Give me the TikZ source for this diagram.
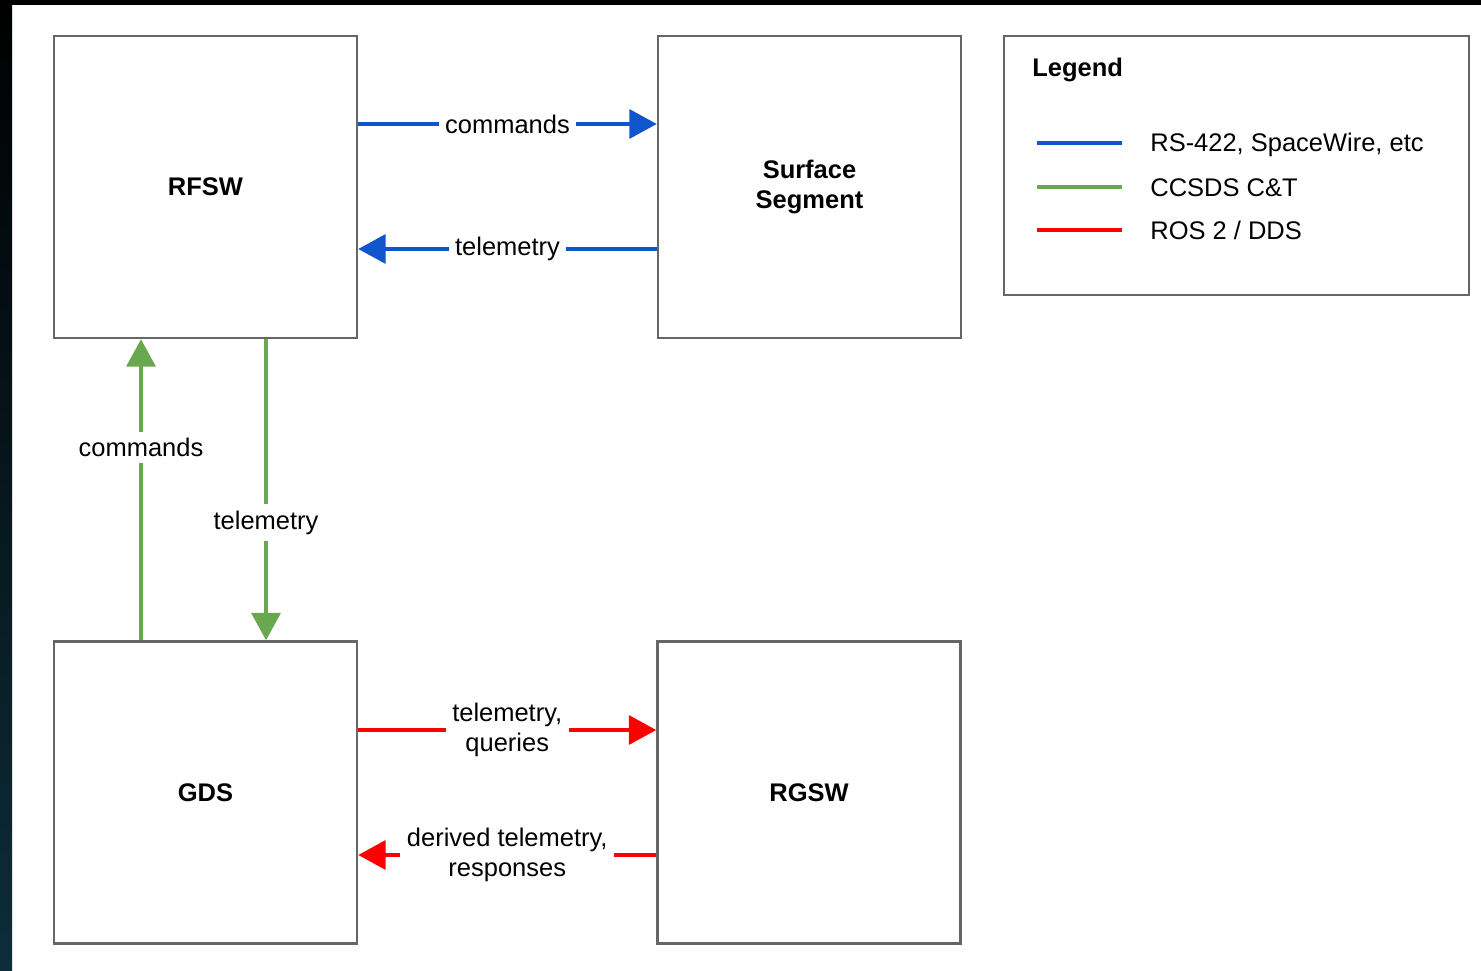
\documentclass[tikz,border=0pt]{standalone}
\usepackage{fontspec}
\setmainfont{Liberation Sans}
\usepackage{xcolor}
\usetikzlibrary{arrows.meta, calc, positioning}

\definecolor{linkblue}{HTML}{1155CC}
\definecolor{linkgreen}{HTML}{6AA84F}
\definecolor{linkred}{HTML}{FF0000}
\definecolor{boxgray}{HTML}{666666}
\definecolor{edgeteal}{RGB}{13,45,58}

\begin{document}
\begin{tikzpicture}[
    block/.style={draw=boxgray, line width=1.4pt, fill=white, minimum width=6.06cm, minimum height=6.04cm, align=center, font=\bfseries},
    legendbox/.style={draw=boxgray, line width=1.4pt, fill=white, minimum width=9.3cm, minimum height=5.18cm},
    link/.style={line width=2.1pt, -{Triangle[length=0.55cm, width=0.58cm]}},
    plain/.style={line width=2.1pt},
    tag/.style={fill=white, inner sep=0.13cm, align=center},
    entry/.style={anchor=west, inner sep=0pt}
]
\fontsize{14.5}{17.5}\selectfont

% Canvas and dark frame of the screenshot
\useasboundingbox (0,0) rectangle (29.62,19.4);
\fill[white] (0,0) rectangle (29.62,19.4);
\fill[black] (0,19.3) rectangle (29.62,19.4);
\shade[top color=black, bottom color=edgeteal] (0,0) rectangle (0.24,19.4);

% Blocks
\node[block] (rfsw)    at (4.11,15.66)  {RFSW};
\node[block] (surface) at (16.19,15.66) {Surface\\Segment};
\node[block] (gds)     at (4.11,3.55)   {GDS};
\node[block] (rgsw)    at (16.18,3.55)  {RGSW};

% Legend
\node[legendbox] (legend) at (24.73,16.09) {};
\node[entry, font=\bfseries] (legend_title) at (20.64,18.0) {Legend};
\coordinate (blue_a)  at (20.74,16.54);
\coordinate (blue_b)  at (22.44,16.54);
\coordinate (green_a) at (20.74,15.66);
\coordinate (green_b) at (22.44,15.66);
\coordinate (red_a)   at (20.74,14.80);
\coordinate (red_b)   at (22.44,14.80);
\draw[plain, linkblue]  (blue_a) -- (blue_b);
\draw[plain, linkgreen] (green_a) -- (green_b);
\draw[plain, linkred]   (red_a) -- (red_b);
\node[entry] (blue_txt)  at (23.0,16.5) {RS-422, SpaceWire, etc};
\node[entry] (green_txt) at (23.0,15.64) {CCSDS C\&T};
\node[entry] (red_txt)   at (23.0,14.79) {ROS 2 / DDS};

% RFSW <-> Surface Segment (blue)
\draw[link, linkblue] ([yshift=1.26cm]rfsw.east) -- node[tag, text=black] {commands} ([yshift=1.26cm]surface.west);
\draw[link, linkblue] ([yshift=-1.24cm]surface.west) -- node[tag, text=black] {telemetry} ([yshift=-1.24cm]rfsw.east);

% GDS <-> RFSW (green)
\draw[link, linkgreen] ([xshift=-1.29cm]gds.north) -- node[tag, text=black, pos=0.64] {commands} ([xshift=-1.29cm]rfsw.south);
\draw[link, linkgreen] ([xshift=1.21cm]rfsw.south) -- node[tag, text=black, pos=0.61] {telemetry} ([xshift=1.21cm]gds.north);

% GDS <-> RGSW (red)
\draw[link, linkred] ([yshift=1.25cm]gds.east) -- node[tag, text=black] {telemetry,\\queries} ([yshift=1.25cm]rgsw.west);
\draw[link, linkred] ([yshift=-1.25cm]rgsw.west) -- node[tag, text=black] {derived telemetry,\\responses} ([yshift=-1.25cm]gds.east);

\end{tikzpicture}
\end{document}
